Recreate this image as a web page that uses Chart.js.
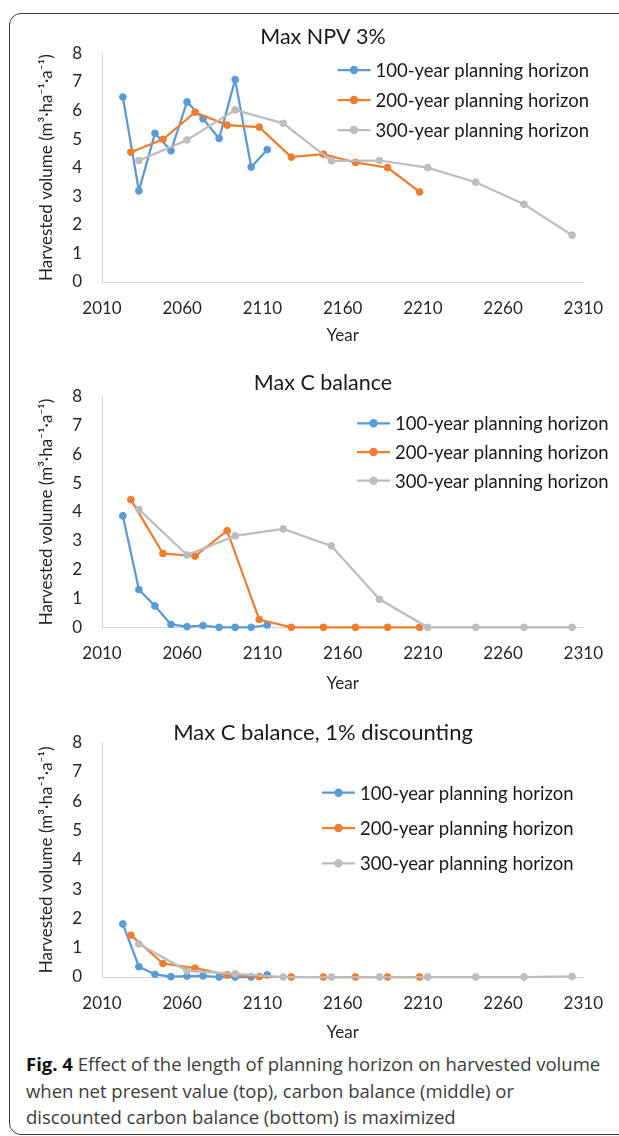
<!DOCTYPE html>
<html>
<head>
<meta charset="utf-8">
<title>Harvested volume by planning horizon</title>
<script src="https://cdn.jsdelivr.net/npm/chart.js@4.4.1/dist/chart.umd.min.js"></script>
<style>
  html, body { margin: 0; padding: 0; background: #fff; }
  body { width: 619px; height: 1136px; position: relative; overflow: hidden; font-family: Lato, sans-serif; }
  .frame { position: absolute; left: 9px; top: 13px; width: 660px; height: 1122px;
           border: 1.5px solid #3a3a3a; border-radius: 12px; box-sizing: border-box; }
  canvas { position: absolute; left: 0; }
  .caption { position: absolute; left: 26px; top: 1051px; font-family: "Open Sans", sans-serif;
             font-size: 18.5px; line-height: 26.5px; color: #3c3c3c; white-space: nowrap; }
  .caption b { color: #111; }
</style>
</head>
<body>
<div class="frame"></div>
<canvas id="npvChart"></canvas>
<canvas id="cBalanceChart"></canvas>
<canvas id="cDiscountChart"></canvas>
<div class="caption"><b>Fig. 4</b> Effect of the length of planning horizon on harvested volume<br>when net present value (top), carbon balance (middle) or<br>discounted carbon balance (bottom) is maximized</div>

<script>
// Axis ticks
const yearTicks = [2010, 2060, 2110, 2160, 2210, 2260, 2310];
const volumeTicks = [0, 1, 2, 3, 4, 5, 6, 7, 8];

// Series names
const seriesNames = ['100-year planning horizon', '200-year planning horizon', '300-year planning horizon'];

// Period mid-years for each planning horizon
const years100 = [2023, 2033, 2043, 2053, 2063, 2073, 2083, 2093, 2103, 2113];
const years200 = [2028, 2048, 2068, 2088, 2108, 2128, 2148, 2168, 2188, 2208];
const years300 = [2033, 2063, 2093, 2123, 2153, 2183, 2213, 2243, 2273, 2303];

// Harvested volume (m3/ha/a) - Max NPV 3%
const npv100 = [6.47, 3.19, 5.20, 4.59, 6.30, 5.71, 5.02, 7.08, 4.02, 4.63];
const npv200 = [4.54, 4.99, 5.94, 5.49, 5.42, 4.37, 4.47, 4.18, 4.00, 3.15];
const npv300 = [4.25, 4.97, 6.02, 5.55, 4.24, 4.25, 4.00, 3.49, 2.72, 1.64];

// Harvested volume - Max C balance
const cBal100 = [3.87, 1.31, 0.74, 0.10, 0.02, 0.06, 0.00, 0.00, 0.00, 0.08];
const cBal200 = [4.43, 2.56, 2.47, 3.35, 0.27, 0.00, 0.00, 0.00, 0.00, 0.00];
const cBal300 = [4.09, 2.51, 3.17, 3.41, 2.82, 0.97, 0.00, 0.00, 0.00, 0.00];

// Harvested volume - Max C balance, 1% discounting
const cDisc100 = [1.81, 0.35, 0.09, 0.01, 0.03, 0.04, 0.00, 0.00, 0.00, 0.07];
const cDisc200 = [1.43, 0.46, 0.30, 0.07, 0.01, 0.00, 0.00, 0.00, 0.00, 0.00];
const cDisc300 = [1.13, 0.21, 0.11, 0.00, 0.00, 0.00, 0.00, 0.00, 0.00, 0.02];

const seriesColors = ['#5B9BD5', '#ED7D31', '#BDBDBD'];
const TEXT = '#262626';
const AXIS = '#d4d4d4';
const FONT = 'Lato';

// Title and legend drawn inside each panel
const panelDecor = {
  id: 'panelDecor',
  afterDatasetsDraw(chart, args, o) {
    const ctx = chart.ctx;
    ctx.save();
    ctx.font = `${o.titleSize}px ${FONT}`;
    ctx.fillStyle = '#1a1a1a';
    ctx.textAlign = 'center';
    ctx.textBaseline = 'middle';
    ctx.fillText(o.title, o.titleX, o.titleY);

    chart.data.datasets.forEach((ds, i) => {
      const y = o.legendY + i * o.legendGap;
      const x0 = o.legendX;
      ctx.strokeStyle = ds.borderColor;
      ctx.lineWidth = 2.25;
      ctx.beginPath();
      ctx.moveTo(x0, y);
      ctx.lineTo(x0 + 33, y);
      ctx.stroke();
      ctx.fillStyle = ds.borderColor;
      ctx.beginPath();
      ctx.arc(x0 + 16.5, y, 4.2, 0, Math.PI * 2);
      ctx.fill();
      ctx.fillStyle = '#1a1a1a';
      ctx.textAlign = 'left';
      ctx.font = `18.5px ${FONT}`;
      ctx.fillText(ds.label, x0 + 38, y + 1);
    });
    ctx.restore();
  }
};

function series(xs, ys, i) {
  return {
    label: seriesNames[i],
    data: xs.map((x, k) => ({ x, y: ys[k] })),
    showLine: true,
    borderColor: seriesColors[i],
    backgroundColor: seriesColors[i],
    pointBackgroundColor: seriesColors[i],
    pointBorderColor: seriesColors[i],
    borderWidth: 2.25,
    pointRadius: 3.4,
    pointBorderWidth: 1,
    tension: 0,
    clip: false,
    order: 3 - i
  };
}

function panel(id, p, sets) {
  const canvas = document.getElementById(id);
  const H = Math.round(p.plotBottom - p.top + 66);
  const xScaleH = H - (p.plotBottom - p.top);
  canvas.width = 619;
  canvas.height = H;
  canvas.style.top = p.top + 'px';
  const lh = 17 * 1.2;

  return new Chart(canvas, {
    type: 'scatter',
    data: { datasets: sets },
    options: {
      responsive: false,
      animation: false,
      devicePixelRatio: 1,
      layout: { padding: { left: 0, right: 619 - 583.5, top: p.plotTop - p.top, bottom: 0 } },
      plugins: {
        legend: { display: false },
        tooltip: { enabled: false },
        panelDecor: {
          title: p.title, titleSize: p.titleSize, titleX: 323, titleY: p.titleY - p.top,
          legendX: p.legendX, legendY: p.legendY - p.top, legendGap: p.legendGap
        }
      },
      scales: {
        x: {
          type: 'linear', min: 2010, max: 2310,
          afterBuildTicks: s => { s.ticks = yearTicks.map(v => ({ value: v })); },
          afterFit: s => { s.height = xScaleH; },
          grid: { display: false, drawTicks: false },
          border: { display: true, color: AXIS, width: 1 },
          ticks: { padding: 16, color: TEXT, font: { family: FONT, size: 17 },
                   maxRotation: 0, autoSkip: false, callback: v => String(v) },
          title: { display: true, text: 'Year', color: TEXT, font: { family: FONT, size: 17 },
                   padding: { top: 0, bottom: xScaleH - lh / 2 - p.xTitleGap } }
        },
        y: {
          type: 'linear', min: 0, max: 8,
          afterBuildTicks: s => { s.ticks = volumeTicks.map(v => ({ value: v })); },
          afterFit: s => { s.width = 102; },
          grid: { display: false, drawTicks: false },
          border: { display: true, color: AXIS, width: 1 },
          ticks: { padding: 20, color: TEXT, font: { family: FONT, size: 17 }, callback: v => String(v) },
          title: { display: true, text: 'Harvested volume (m³·ha⁻¹·a⁻¹)', color: TEXT,
                   font: { family: FONT, size: 17 }, padding: { top: 46.5 - lh / 2, bottom: 0 } }
        }
      }
    },
    plugins: [panelDecor]
  });
}

panel('npvChart', {
  top: 0, plotTop: 53.3, plotBottom: 282, xTitleGap: 54,
  title: 'Max NPV 3%', titleSize: 21.5, titleY: 37.5,
  legendX: 337.5, legendY: 70, legendGap: 30
}, [series(years100, npv100, 0), series(years200, npv200, 1), series(years300, npv300, 2)]);

panel('cBalanceChart', {
  top: 350, plotTop: 396.7, plotBottom: 627.3, xTitleGap: 56,
  title: 'Max C balance', titleSize: 21.5, titleY: 383,
  legendX: 357, legendY: 423.3, legendGap: 28.7
}, [series(years100, cBal100, 0), series(years200, cBal200, 1), series(years300, cBal300, 2)]);

panel('cDiscountChart', {
  top: 700, plotTop: 742.7, plotBottom: 977, xTitleGap: 56,
  title: 'Max C balance, 1% discounting', titleSize: 22, titleY: 733,
  legendX: 322, legendY: 792.7, legendGap: 35.3
}, [series(years100, cDisc100, 0), series(years200, cDisc200, 1), series(years300, cDisc300, 2)]);
</script>
</body>
</html>
